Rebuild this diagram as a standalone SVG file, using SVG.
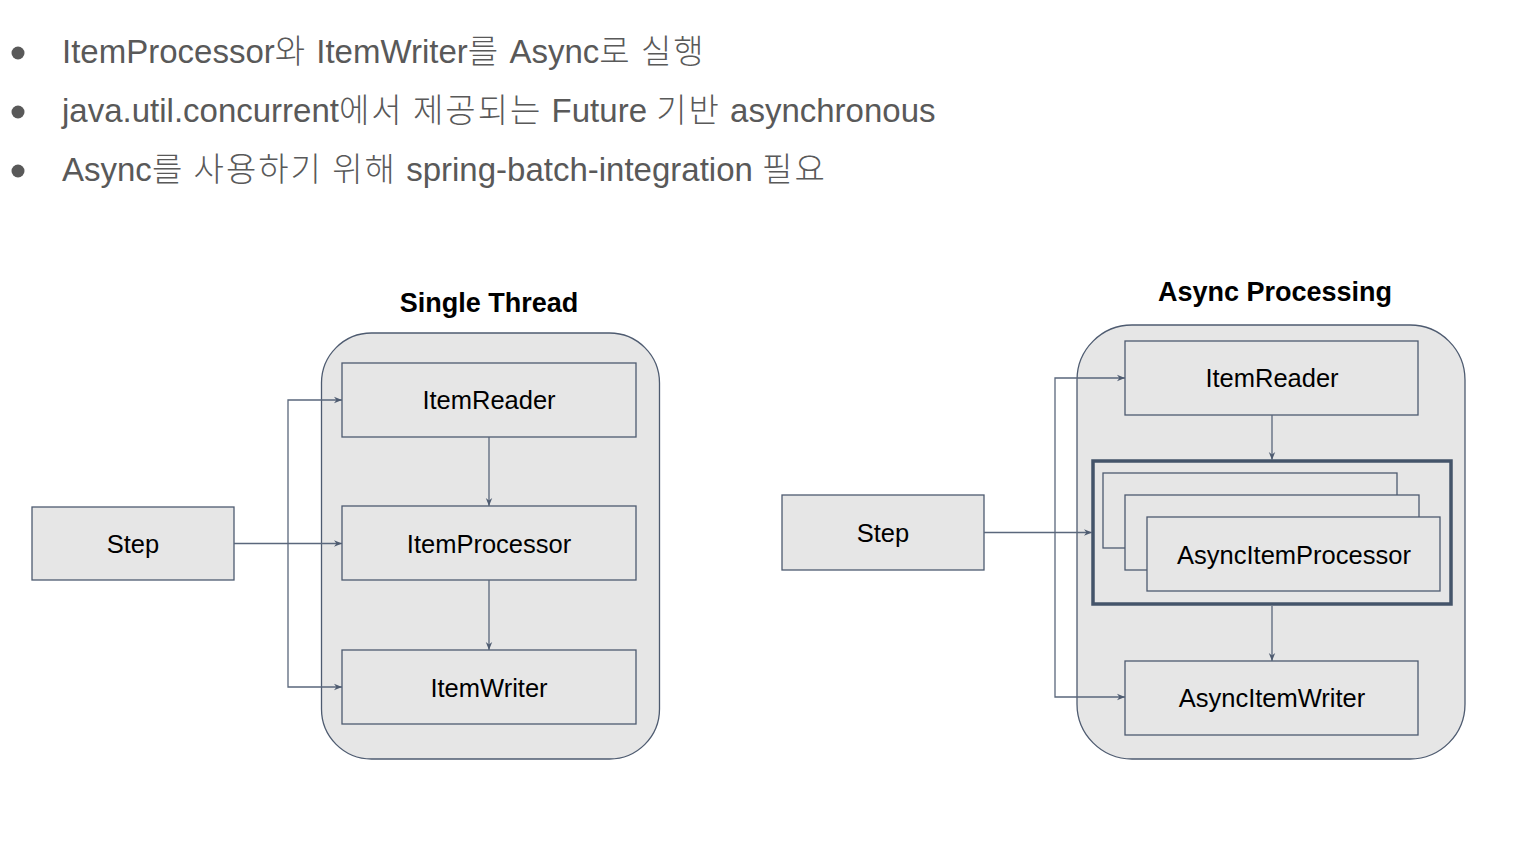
<svg xmlns="http://www.w3.org/2000/svg" width="1514" height="842" viewBox="0 0 1514 842">
<style>
.bul{font-family:"Liberation Sans","Noto Sans CJK KR",sans-serif;font-size:33px;fill:#595959}
.ko{font-family:"Noto Sans CJK KR",sans-serif;font-weight:300;letter-spacing:2px}
.title{font-family:"Liberation Sans",Arial,sans-serif;font-size:27px;font-weight:bold;fill:#000;text-anchor:middle}
.lbl{font-family:"Liberation Sans",Arial,sans-serif;font-size:25.5px;fill:#000;text-anchor:middle}
.box{fill:#e6e6e6;stroke:#4e5b70;stroke-width:1.3}
.cont{fill:#e6e6e6;stroke:#4e5b70;stroke-width:1.3}
.thick{fill:none;stroke:#44546a;stroke-width:3.5}
.con{fill:none;stroke:#5a677c;stroke-width:1.3}
</style>
<defs>
<marker id="arr" viewBox="0 0 10 10" refX="10" refY="5" markerWidth="8" markerHeight="8" markerUnits="userSpaceOnUse" orient="auto">
<path d="M0,1 L10,5 L0,9 L3,5 Z" fill="#4e5b70"/>
</marker>
</defs>
<rect width="1514" height="842" fill="#fff"/>
<g id="bullets">
<circle cx="18" cy="53" r="6.5" fill="#595959"/>
<circle cx="18" cy="112" r="6.5" fill="#595959"/>
<circle cx="18" cy="171" r="6.5" fill="#595959"/>
<text class="bul" x="62" y="63">ItemProcessor<tspan class="ko">와</tspan> ItemWriter<tspan class="ko">를</tspan> Async<tspan class="ko">로 실행</tspan></text>
<text class="bul" x="62" y="122">java.util.concurrent<tspan class="ko">에서 제공되는</tspan> Future <tspan class="ko">기반</tspan> asynchronous</text>
<text class="bul" x="62" y="181">Async<tspan class="ko">를 사용하기 위해</tspan> spring-batch-integration <tspan class="ko">필요</tspan></text>
</g>
<text class="title" x="489" y="312">Single Thread</text>
<text class="title" x="1275" y="301">Async Processing</text>
<g id="left-container"><rect class="cont" x="321.5" y="333" width="338" height="426" rx="50" ry="50"/></g>
<g id="right-container"><rect class="cont" x="1077" y="325" width="388" height="434" rx="55" ry="55"/></g>
<g id="step-left"><rect class="box" x="32" y="507" width="202" height="73"/><text class="lbl" x="133" y="553">Step</text></g>
<g id="item-reader-left"><rect class="box" x="342" y="363" width="294" height="74"/><text class="lbl" x="489" y="409">ItemReader</text></g>
<g id="item-processor-left"><rect class="box" x="342" y="506" width="294" height="74"/><text class="lbl" x="489" y="553">ItemProcessor</text></g>
<g id="item-writer-left"><rect class="box" x="342" y="650" width="294" height="74"/><text class="lbl" x="489" y="697">ItemWriter</text></g>
<g id="step-right"><rect class="box" x="782" y="495" width="202" height="75"/><text class="lbl" x="883" y="542">Step</text></g>
<g id="item-reader-right"><rect class="box" x="1125" y="341" width="293" height="74"/><text class="lbl" x="1272" y="387">ItemReader</text></g>
<g id="async-item-processor">
<rect class="thick" x="1093" y="461" width="358" height="143"/>
<rect class="box" x="1103" y="473" width="294" height="75"/>
<rect class="box" x="1125" y="495" width="294" height="75"/>
<rect class="box" x="1147" y="517" width="293" height="74"/>
<text class="lbl" x="1294" y="564">AsyncItemProcessor</text>
</g>
<g id="async-item-writer"><rect class="box" x="1125" y="661" width="293" height="74"/><text class="lbl" x="1272" y="707">AsyncItemWriter</text></g>
<g id="connectors">
<path class="con" d="M234,543.5 H342" marker-end="url(#arr)"/>
<path class="con" d="M288,543.5 V400 H342" marker-end="url(#arr)"/>
<path class="con" d="M288,543.5 V687 H342" marker-end="url(#arr)"/>
<path class="con" d="M489,437 V506" marker-end="url(#arr)"/>
<path class="con" d="M489,580 V650" marker-end="url(#arr)"/>
<path class="con" d="M984,532.5 H1092" marker-end="url(#arr)"/>
<path class="con" d="M1055,532.5 V378 H1125" marker-end="url(#arr)"/>
<path class="con" d="M1055,532.5 V697 H1125" marker-end="url(#arr)"/>
<path class="con" d="M1272,415 V460" marker-end="url(#arr)"/>
<path class="con" d="M1272,606 V661" marker-end="url(#arr)"/>
</g>
</svg>
